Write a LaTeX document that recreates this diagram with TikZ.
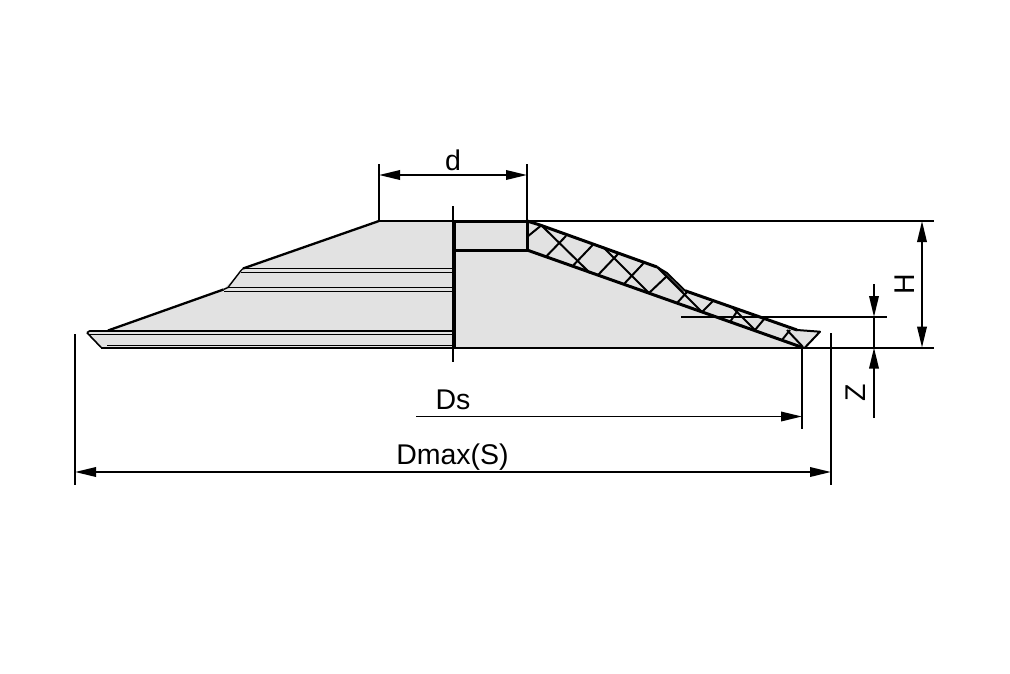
\documentclass[tikz,border=0pt]{standalone}
\usepackage{fontspec}
\setmainfont{Liberation Sans}
\usetikzlibrary{arrows.meta}
\definecolor{bodygrey}{HTML}{E2E2E2}
\tikzset{
  thin line/.style={line width=1.9pt,line cap=butt},
  heavy/.style={line width=3pt,line join=round},
  profile/.style={line width=2.3pt,line join=round},
  hatch/.style={line width=2pt},
  rib/.style={line width=1.4pt},
  dim/.style={line width=1.9pt,arrows={Triangle[length=21pt,width=9.5pt]-Triangle[length=21pt,width=9.5pt]}},
  dimend/.style={line width=1.9pt,arrows={-Triangle[length=21pt,width=9.5pt]}},
  lbl/.style={font=\fontsize{28.5}{28.5}\selectfont,inner sep=0pt}
}
\begin{document}
\begin{tikzpicture}[x=1pt,y=-1pt]
\useasboundingbox[fill=white] (0,0) rectangle (1010,673);
% grey bodies
\fill[bodygrey] (87,332.5) -- (90,330.5) -- (108,330.5) -- (223.5,289.5) -- (243,268.5) -- (379,221) -- (527,221) -- (540,225) -- (657,267) -- (667,273) -- (685,290.7) -- (797,330) -- (820,331.7) -- (805,347.5) -- (101,347.5) -- cycle;
% left half outline
\draw[profile] (108,330.5) -- (223.5,289.5);
\draw[rib] (223.5,289.5) -- (228,287.5) -- (241,270.5) -- (243,268.5);
\draw[profile] (243,268.5) -- (379,221);
\draw[line width=1.6pt] (87,332.7) -- (101,347.3);
\draw[line width=1.6pt] (87,332.7) -- (90,330.7);
\draw[line width=2pt] (90,330.7) -- (453,330.7);
\draw[rib] (87.5,334.3) -- (453,334.3);
\draw[rib] (107,345.7) -- (453,345.7);
\draw[rib] (243,268.5) -- (453,268.5);
\draw[rib] (241,272.5) -- (453,272.5);
\draw[rib] (228,287.5) -- (453,287.5);
\draw[rib] (224,291.5) -- (453,291.5);
\draw[thin line] (101,347.8) -- (453,347.8);
% dimension references
\coordinate (dL) at (379,175); \coordinate (dR) at (527,175);
\coordinate (dLt) at (379,164); \coordinate (dLb) at (379,221);
\coordinate (dRt) at (527,164); \coordinate (dRb) at (527,221);
\draw[thin line] (dLt) -- (dLb);
\draw[thin line] (dRt) -- (dRb);
\draw[thin line] (379,221) -- (934,221);
\draw[thin line] (453,347.8) -- (934,347.8);
\draw[thin line] (681,317) -- (887,317);
% centre and bore
\draw[thin line] (453,206) -- (453,362);
\draw[heavy] (454,221) -- (454,347.5);
\draw[heavy] (453,221) -- (527,221) -- (527,250) -- (453,250);
% right section
\draw[heavy] (527,221) -- (540,225) -- (657,267);
\draw[line width=1.9pt] (657,267) -- (667,273) -- (685,290.7);
\draw[line width=1.6pt] (658,267) -- (683,292);
\draw[heavy] (685,290.7) -- (797,330);
\draw[line width=2pt,line join=round] (797,330) -- (820,331.7) -- (805,347.5);
\draw[heavy] (527,250) -- (802,347.3);
% hatching
\foreach \a/\b/\c/\d in {
 527/237/541.7/225, 546/256.7/566/236, 572.7/266/592.7/245, 598/275/618/254,
 624/284/644/262.7, 649/293/667/276, 677/303/687/292, 702/312/713/301,
 730/322/738/310, 755/330/765/318, 782/340/790/330,
 541/225/590/273, 603/247/649/293, 657/267/702/312, 733/308/755/330, 787/330/803/347}
  \draw[hatch] (\a,\b) -- (\c,\d);
% d
\draw[dim] (dL) -- (dR);
\node[lbl] (ld) at (453,160) {d};
% Ds
\coordinate (dsS) at (416,416.5); \coordinate (dsE) at (802,416.5);
\coordinate (dsT) at (802,347.5); \coordinate (dsB) at (802,429);
\draw[thin line] (dsT) -- (dsB);
\draw[dimend] (dsS) -- (dsE);
\node[lbl] (lds) at (453,400) {Ds};
% Dmax
\coordinate (mL) at (75,472); \coordinate (mR) at (831,472);
\draw[thin line] (75,334) -- (75,485);
\draw[thin line] (831,333) -- (831,485);
\draw[dim] (mL) -- (mR);
\node[lbl] (lmax) at (452.5,457.5) {Dmax(S)};
% H
\coordinate (hT) at (922,221); \coordinate (hB) at (922,347.6);
\draw[dim] (hT) -- (hB);
\node[lbl,rotate=90] (lh) at (905,284) {H};
% Z
\coordinate (zA) at (874,284); \coordinate (zB) at (874,317);
\coordinate (zC) at (874,418); \coordinate (zD) at (874,347.6);
\draw[dimend] (zA) -- (zB);
\draw[dimend] (zC) -- (zD);
\draw[thin line] (zB) -- (zD);
\node[lbl,rotate=90] (lz) at (856,393) {Z};
\end{tikzpicture}
\end{document}
